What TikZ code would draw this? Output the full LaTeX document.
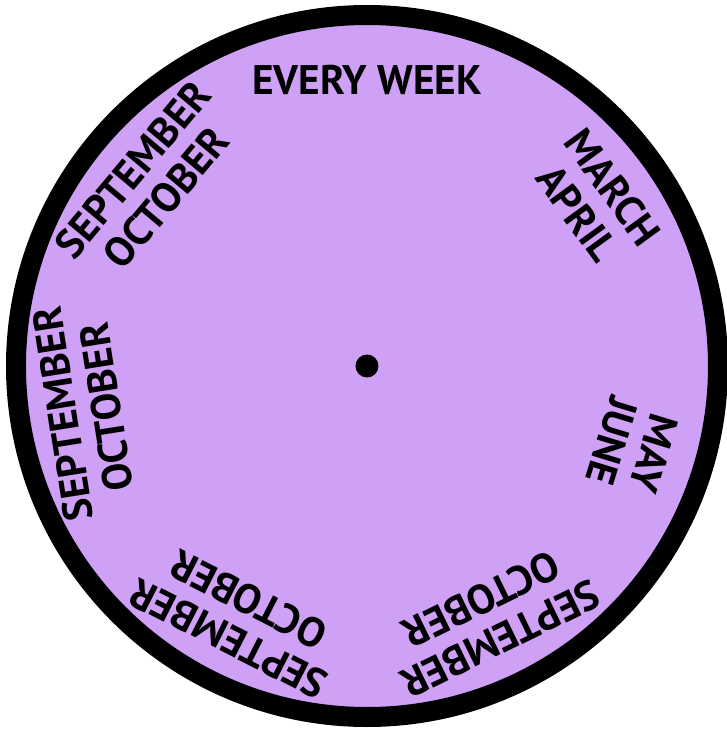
\documentclass[tikz,border=0pt]{standalone}
\usepackage{fontspec}
\setmainfont{PT Sans}
\definecolor{wheelfill}{RGB}{207,161,246}
\tikzset{
  lbl/.style={font=\bfseries\fontsize{31}{33}\selectfont, align=center, inner sep=0pt, text=black}
}
\begin{document}
\begin{tikzpicture}[x=0.75pt,y=0.75pt]
\useasboundingbox (-367,-363) rectangle (359,366);
\coordinate (c) at (0,0);
\draw[line width=15pt, fill=wheelfill] (c) circle (351);
\fill (c) circle (11.5);
\node[lbl] (ew) at (90:286) {EVERY WEEK};
\node[lbl, rotate=-54] (ma) at (36:282) {MARCH\\APRIL};
\node[lbl, rotate=-107] (mj) at (-17:278) {MAY\\JUNE};
\node[lbl, rotate=-154] (br) at (-64:282) {SEPTEMBER\\OCTOBER};
\node[lbl, rotate=153] (bl) at (-117:284) {SEPTEMBER\\OCTOBER};
\node[lbl, rotate=99] (lf) at (189:286) {SEPTEMBER\\OCTOBER};
\node[lbl, rotate=50] (tl) at (140:284) {SEPTEMBER\\OCTOBER};
\end{tikzpicture}
\end{document}
